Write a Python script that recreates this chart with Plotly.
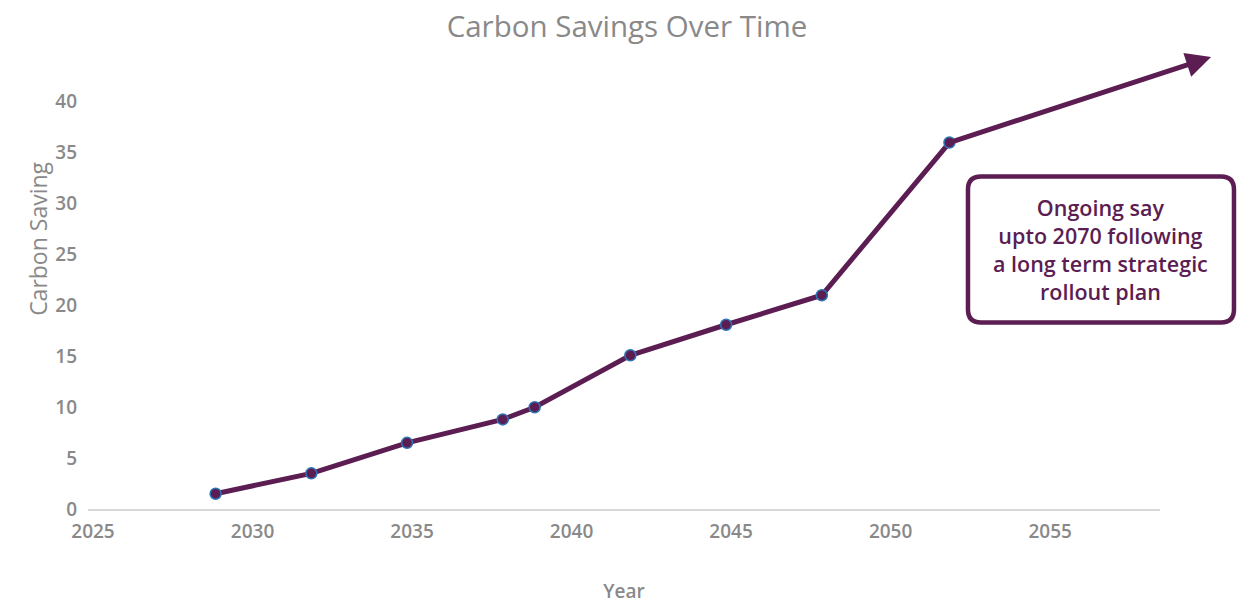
import plotly.graph_objects as go

years = [2029, 2032, 2035, 2038, 2039, 2042, 2045, 2048, 2052]
savings = [1.5, 3.5, 6.5, 8.8, 10.0, 15.1, 18.1, 21.0, 36.0]
arrow_end = (2060.2, 44.4)
box_text = "Ongoing say<br>upto 2070 following<br>a long term strategic<br>rollout plan"
box_anchor = (2056.75, 25.5)

purple = "#5b1d52"
grey = "#898989"
font = "Open Sans"

x_range = [2025, 2058.6]
y_range = [0, 44.6]

fig = go.Figure()

fig.add_scatter(x=years, y=savings, mode="lines+markers",
                line=dict(color=purple, width=5),
                marker=dict(size=11, color=purple, line=dict(color="#2e75b6", width=1.5)),
                cliponaxis=False, showlegend=False)

# arrow continuing past the last point
fig.add_annotation(x=arrow_end[0], y=arrow_end[1], ax=years[-1], ay=savings[-1],
                   xref="x", yref="y", axref="x", ayref="y", text="",
                   showarrow=True, arrowhead=2, arrowsize=1, arrowwidth=5,
                   arrowcolor=purple, standoff=0)

# rounded box, pixel sized, anchored in paper coords so it is not clipped
bx = (box_anchor[0] - x_range[0]) / (x_range[1] - x_range[0])
by = (box_anchor[1] - y_range[0]) / (y_range[1] - y_range[0])
w, h, r = 133, 73, 13
path = (f"M {-w + r},{-h} L {w - r},{-h} Q {w},{-h} {w},{-h + r} "
        f"L {w},{h - r} Q {w},{h} {w - r},{h} L {-w + r},{h} Q {-w},{h} {-w},{h - r} "
        f"L {-w},{-h + r} Q {-w},{-h} {-w + r},{-h} Z")
fig.add_shape(type="path", path=path, xref="paper", yref="paper",
              xsizemode="pixel", ysizemode="pixel",
              xanchor=bx, yanchor=by,
              line=dict(color=purple, width=4.5), fillcolor="white")
fig.add_annotation(x=bx, y=by, xref="paper", yref="paper",
                   xanchor="center", yanchor="middle",
                   text=box_text, showarrow=False,
                   font=dict(family=font, size=21.5, color=purple, weight=600))

# y title sits above the middle of the axis in the original
fig.add_annotation(x=0, y=0.595, xref="paper", yref="paper", xshift=-68,
                   text="Carbon Saving", textangle=-90, showarrow=False,
                   font=dict(family=font, size=23, color=grey, weight=500))

# page body has an 8px margin, so the figure is a bit smaller than the window
fig.update_layout(
    width=1238, height=596,
    margin=dict(l=80, r=86, t=47, b=95),
    paper_bgcolor="white", plot_bgcolor="white",
    title=dict(text="Carbon Savings Over Time", x=0.5, xanchor="center",
               y=1 - 19 / 596, yanchor="middle",
               font=dict(family=font, size=29.5, color=grey, weight=500)),
    font=dict(family=font, color=grey),
)
fig.update_xaxes(range=x_range, tickvals=[2025, 2030, 2035, 2040, 2045, 2050, 2055],
                 showgrid=False, zeroline=False, showline=True, linecolor="#d9d9d9", linewidth=2,
                 ticks="", ticklabelstandoff=4, ticklabelshift=5, automargin=False,
                 tickfont=dict(family=font, size=19, color=grey, weight=600),
                 title=dict(text="Year", standoff=45, font=dict(family=font, size=19, color=grey, weight=600)))
fig.update_yaxes(range=y_range, tickvals=[0, 5, 10, 15, 20, 25, 30, 35, 40],
                 showgrid=False, zeroline=False, showline=False, ticks="",
                 ticklabelstandoff=10, automargin=False,
                 tickfont=dict(family=font, size=19, color=grey, weight=600))

fig.write_html("out.html")
